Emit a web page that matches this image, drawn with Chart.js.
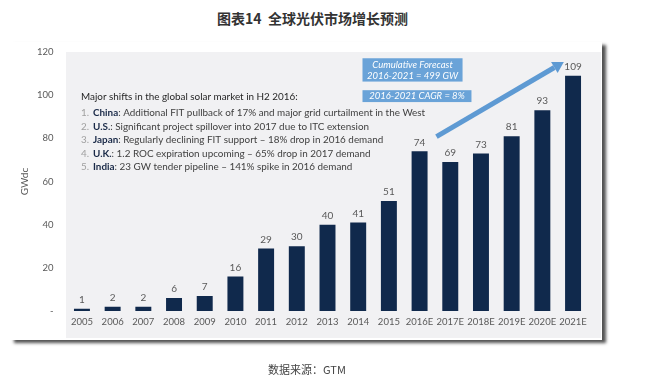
<!DOCTYPE html>
<html><head><meta charset="utf-8">
<script src="https://cdn.jsdelivr.net/npm/chart.js@4.4.1/dist/chart.umd.min.js"></script>
<style>
html,body{margin:0;padding:0;background:#fff;width:651px;height:382px;overflow:hidden}
#title{position:absolute;left:217px;top:11px;font:bold 14px/15px "Noto Sans CJK SC";color:#333;white-space:pre}
#card{position:absolute;left:10px;top:42px;width:592px;height:298px;background:#fff;box-shadow:4px 3px 3px rgba(40,40,40,.8)}
#plotbg{position:absolute;left:66px;top:52px;width:535px;height:286px;background:#f1f1f3}
#wrap{position:absolute;left:0;top:0;width:651px;height:382px}
#foot{position:absolute;left:268px;top:362px;font:11px/14px "Noto Sans CJK SC";color:#444;white-space:pre}
</style></head>
<body>
<div id="title">图表14  全球光伏市场增长预测</div>
<div id="card"></div>
<div id="plotbg"></div>
<div id="wrap"><canvas id="c" width="651" height="382"></canvas></div>
<div id="foot">数据来源：GTM</div>
<script>
const categories = ['2005','2006','2007','2008','2009','2010','2011','2012','2013','2014','2015','2016E','2017E','2018E','2019E','2020E','2021E'];
const capacityGW = [1,2,2,6,7,16,29,30,40,41,51,74,69,73,81,93,109];
const yTickValues = [0,20,40,60,80,100,120];
const axisTitle = 'GWdc';
const noteHeading = 'Major shifts in the global solar market in H2 2016:';
const noteNumbers = ['1.','2.','3.','4.','5.'];
const noteCountries = ['China','U.S.','Japan','U.K.','India'];
const noteTexts = [
  ': Additional FIT pullback of 17% and major grid curtailment in the West',
  ': Significant project spillover into 2017 due to ITC extension',
  ': Regularly declining FIT support \u2013 18% drop in 2016 demand',
  ': 1.2 ROC expiration upcoming \u2013 65% drop in 2017 demand',
  ': 23 GW tender pipeline \u2013 141% spike in 2016 demand'
];
const forecastBox = ['Cumulative Forecast','2016-2021 = 499 GW'];
const cagrBox = '2016-2021 CAGR = 8%';

const FONT = 'Lato, "Open Sans", sans-serif';

const overlay = {
  id: 'overlay',
  afterDatasetsDraw(chart) {
    const ctx = chart.ctx, xs = chart.scales.x, ys = chart.scales.y;
    const X = i => xs.getPixelForValue(i), Y = v => ys.getPixelForValue(v);
    ctx.save();
    // note text
    ctx.textAlign = 'left'; ctx.textBaseline = 'middle';
    const nx = X(-0.03), cx = X(0.36);
    const fs = '9.9px ';
    ctx.font = fs + FONT; ctx.fillStyle = '#262626';
    ctx.fillText(noteHeading, nx, Y(99.2));
    for (let k = 0; k < 5; k++) {
      const yy = Y(91.8 - k * 6.25);
      ctx.font = fs + FONT; ctx.fillStyle = '#a0a0a0';
      ctx.fillText(noteNumbers[k], nx, yy);
      ctx.font = 'bold ' + fs + FONT; ctx.fillStyle = '#1a2a48';
      ctx.fillText(noteCountries[k], cx, yy);
      const w = ctx.measureText(noteCountries[k]).width;
      ctx.font = fs + FONT; ctx.fillStyle = '#404040';
      ctx.fillText(noteTexts[k], cx + w, yy);
    }
    // arrow
    const ax0 = X(11.55), ay0 = Y(80.8), ax1 = X(15.7), ay1 = Y(115.4);
    const ang = Math.atan2(ay1 - ay0, ax1 - ax0);
    const hl = 11, hw = 6.5;
    const bx = ax1 - hl * Math.cos(ang), by = ay1 - hl * Math.sin(ang);
    ctx.strokeStyle = '#5e9ad3'; ctx.fillStyle = '#5e9ad3';
    ctx.lineWidth = 5; ctx.lineCap = 'butt';
    ctx.beginPath(); ctx.moveTo(ax0, ay0); ctx.lineTo(bx, by); ctx.stroke();
    ctx.beginPath(); ctx.moveTo(ax1, ay1);
    ctx.lineTo(bx + hw * Math.sin(ang), by - hw * Math.cos(ang));
    ctx.lineTo(bx - hw * Math.sin(ang), by + hw * Math.cos(ang));
    ctx.closePath(); ctx.fill();
    // boxes
    ctx.fillStyle = '#6aa3d8';
    const b1x = X(9.14), b1y = Y(117.1), b1w = X(12.4) - b1x, b1h = Y(106.3) - b1y;
    ctx.fillRect(b1x, b1y, b1w, b1h);
    const b2x = X(9.14), b2y = Y(102.3), b2w = X(12.69) - b2x, b2h = Y(96.8) - b2y;
    ctx.fillRect(b2x, b2y, b2w, b2h);
    ctx.fillStyle = '#ffffff'; ctx.textAlign = 'center';
    ctx.font = 'italic 9.5px ' + FONT;
    ctx.fillText(forecastBox[0], b1x + b1w / 2, b1y + b1h * 0.28);
    ctx.fillText(forecastBox[1], b1x + b1w / 2, b1y + b1h * 0.74);
    ctx.fillText(cagrBox, b2x + b2w / 2, b2y + b2h / 2);
    // value labels
    const meta = chart.getDatasetMeta(0);
    ctx.font = '10px ' + FONT; ctx.fillStyle = '#595959';
    ctx.textAlign = 'center'; ctx.textBaseline = 'bottom';
    meta.data.forEach((b, i) => ctx.fillText(String(capacityGW[i]), b.x, b.y - 4));
    ctx.restore();
  }
};

new Chart(document.getElementById('c'), {
  type: 'bar',
  data: {
    labels: categories,
    datasets: [{
      data: capacityGW,
      backgroundColor: '#10294c',
      barPercentage: 0.52,
      categoryPercentage: 1.0
    }]
  },
  options: {
    responsive: false,
    animation: false,
    layout: { padding: { top: 52, right: 62.6, bottom: 51, left: 0 } },
    plugins: { legend: { display: false }, tooltip: { enabled: false }, title: { display: false } },
    scales: {
      x: {
        grid: { display: false, drawTicks: false },
        border: { display: false },
        ticks: { font: { family: FONT, size: 9.5 }, color: '#595959', padding: 5, maxRotation: 0, autoSkip: false },
        afterFit: s => { s.height = 20; }
      },
      y: {
        min: 0, max: 120,
        afterBuildTicks: s => { s.ticks = yTickValues.map(v => ({ value: v })); },
        grid: { display: false, drawTicks: false },
        border: { display: false },
        ticks: { font: { family: FONT, size: 9.5 }, color: '#595959', padding: 13,
          callback: v => v === 0 ? '-' : String(v) },
        title: { display: true, text: axisTitle, color: '#595959', font: { family: FONT, size: 10 }, padding: { top: 19, bottom: 0 } },
        afterFit: s => { s.width = 66.6; }
      }
    }
  },
  plugins: [overlay]
});
</script>
</body></html>
